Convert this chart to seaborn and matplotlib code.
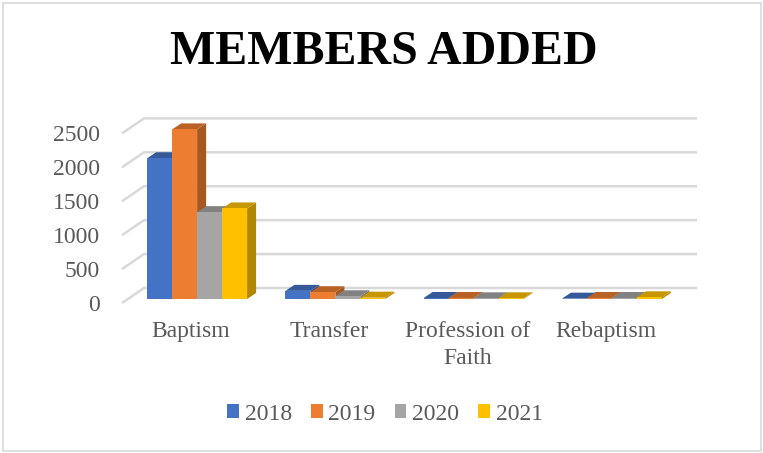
import matplotlib
matplotlib.use("Agg")
import matplotlib.pyplot as plt
from matplotlib.patches import Polygon, Rectangle
import matplotlib.colors as mcolors
import seaborn as sns
import pandas as pd

# --- data ---
categories = ["Baptism", "Transfer", "Profession of\nFaith", "Rebaptism"]
years = ["2018", "2019", "2020", "2021"]
values_2018 = [2075, 120, 15, 5]
values_2019 = [2500, 100, 15, 15]
values_2020 = [1280, 40, 10, 15]
values_2021 = [1335, 20, 10, 25]
y_ticks = [0, 500, 1000, 1500, 2000, 2500]
title_text = "MEMBERS ADDED"

series = {"2018": values_2018, "2019": values_2019,
          "2020": values_2020, "2021": values_2021}
rows = []
for yr in years:
    for cat, v in zip(categories, series[yr]):
        rows.append({"category": cat, "year": yr, "members": v})
df = pd.DataFrame(rows)

palette = {"2018": "#4472C4", "2019": "#ED7D31", "2020": "#A5A5A5", "2021": "#FFC000"}
text_gray = "#595959"
grid_gray = "#D9D9D9"
serif = ["Liberation Serif", "DejaVu Serif"]

sns.set_style("white")
plt.rcParams["font.family"] = serif

W, H, DPI = 763, 453, 100
fig = plt.figure(figsize=(W / DPI, H / DPI), dpi=DPI)

# front plane of the plot area, in pixels
left_px, right_px = 122, 675
zero_px, top_px = 303, 133.4
ax = fig.add_axes([left_px / W, (H - zero_px) / H,
                   (right_px - left_px) / W, (zero_px - top_px) / H])

sns.barplot(data=df, x="category", y="members", hue="year", order=categories,
            hue_order=years, palette=palette, width=0.723, saturation=1,
            linewidth=0, ax=ax)

ax.set_xlim(-0.5, 3.5)
ax.set_ylim(0, 2500)

# pixel -> data unit conversion
sx = (3.5 - (-0.5)) / (right_px - left_px)
sy = 2500 / (zero_px - top_px)

# depth offsets (pixels): bar plane, bar depth, back wall
bar_dx, bar_dy = 6, 4
depth_dx, depth_dy = 9, 6
wall_dx, wall_dy = 22, 15

# floor/back-wall gridlines with the perspective diagonal on the left
x0, x1 = ax.get_xlim()
for v in y_ticks:
    ax.plot([x0, x0 + wall_dx * sx, x1 + wall_dx * sx],
            [v, v + wall_dy * sy, v + wall_dy * sy],
            color=grid_gray, lw=1.8, clip_on=False, zorder=1,
            solid_capstyle="butt")

def shade(color, f):
    r, g, b = mcolors.to_rgb(color)
    return (r * f, g * f, b * f)

bars = sorted(ax.patches, key=lambda p: p.get_x())
for k, p in enumerate(bars):
    x, w, h = p.get_x(), p.get_width(), p.get_height()
    base = p.get_facecolor()
    x = x + bar_dx * sx
    y0 = bar_dy * sy
    p.set_x(x)
    p.set_y(y0)
    p.set_clip_on(False)
    ddx, ddy = depth_dx * sx, depth_dy * sy
    side = Polygon([(x + w, y0), (x + w + ddx, y0 + ddy),
                    (x + w + ddx, y0 + h + ddy), (x + w, y0 + h)],
                   closed=True, facecolor=shade(base, 0.7), edgecolor="none",
                   clip_on=False, zorder=3 + 3 * k)
    top = Polygon([(x, y0 + h), (x + w, y0 + h),
                   (x + w + ddx, y0 + h + ddy), (x + ddx, y0 + h + ddy)],
                  closed=True, facecolor=shade(base, 0.78), edgecolor="none",
                  clip_on=False, zorder=4 + 3 * k)
    ax.add_patch(side)
    ax.add_patch(top)
    p.set_zorder(5 + 3 * k)

for s in ax.spines.values():
    s.set_visible(False)
ax.set_xlabel("")
ax.set_ylabel("")
ax.set_yticks(y_ticks)
ax.set_yticklabels([str(t) for t in y_ticks], family=serif)
ax.tick_params(axis="y", length=0, pad=16, labelsize=17, labelcolor=text_gray)
ax.tick_params(axis="x", length=0, pad=13, labelsize=17, labelcolor=text_gray)
for lbl in ax.get_xticklabels():
    lbl.set_linespacing(1.35)
    lbl.set_family(serif)
ax.grid(False)
ax.set_facecolor("none")

leg = ax.legend(loc="center", bbox_to_anchor=(385 / W, 1 - 414 / H),
                bbox_transform=fig.transFigure, ncol=4, frameon=False,
                prop={"family": serif, "size": 17}, handlelength=0.5,
                handleheight=0.5, handletextpad=0.25, columnspacing=0.8)
for t in leg.get_texts():
    t.set_color(text_gray)

fig.text(384 / W, 1 - 52 / H, title_text, ha="center", va="center",
         fontsize=34.5, fontweight="bold", color="black", family=serif)

# thin frame around the whole chart
fig.patches.append(Rectangle((2.5 / W, 2.5 / H), (W - 5) / W, (H - 5) / H,
                             transform=fig.transFigure, fill=False,
                             edgecolor=grid_gray, lw=1.2))

fig.savefig("out.png", dpi=DPI)
